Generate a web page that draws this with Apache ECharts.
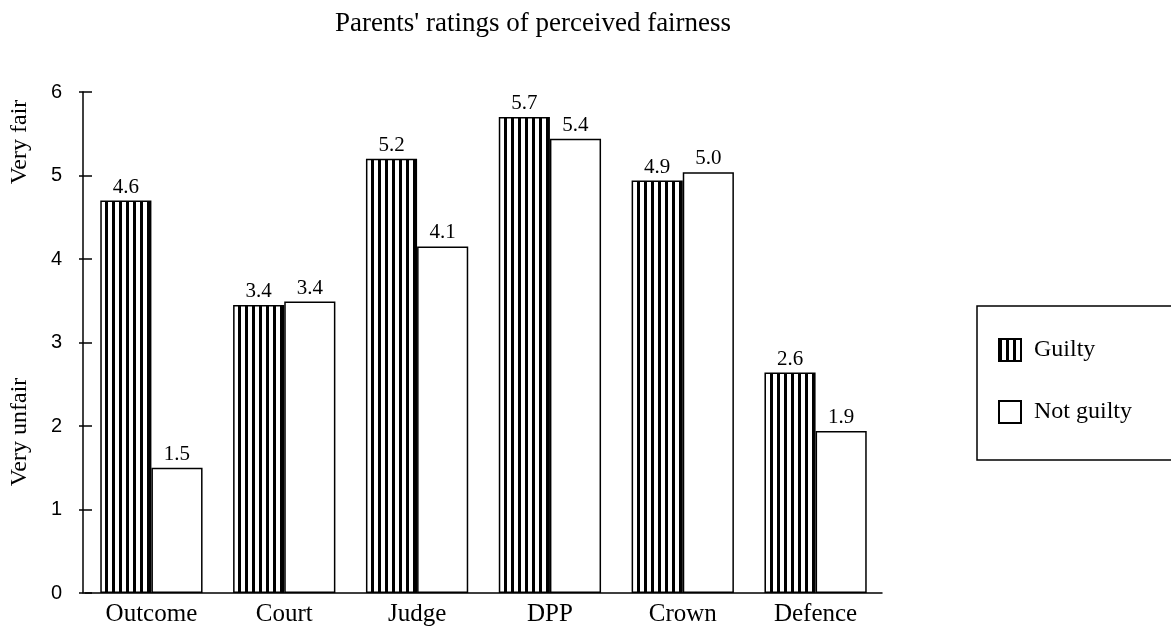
<!DOCTYPE html>
<html lang="en">
<head>
    <meta charset="UTF-8">
    <title>Parents' ratings of perceived fairness</title>
    <script src="https://cdn.jsdelivr.net/npm/echarts@6/dist/echarts.min.js"></script>
</head>
<body style="margin:0;background:#fff;">
    <div id="main" style="width:1171px;height:635px;"></div>
    <script>
        // data (bar heights) + the numbers printed above the bars
        var categories = ['Outcome', 'Court', 'Judge', 'DPP', 'Crown', 'Defence'];
        var guilty = [4.7, 3.45, 5.2, 5.7, 4.94, 2.64];
        var notGuilty = [1.5, 3.49, 4.15, 5.44, 5.04, 1.94];
        var guiltyLabels = ['4.6', '3.4', '5.2', '5.7', '4.9', '2.6'];
        var notGuiltyLabels = ['1.5', '3.4', '4.1', '5.4', '5.0', '1.9'];
        var yTicks = [0, 1, 2, 3, 4, 5, 6];

        var serif = '"Liberation Serif", serif';
        var sans = '"Liberation Sans", sans-serif';

        // vertical stripe fill for the "Guilty" bars
        var stripe = document.createElement('canvas');
        stripe.width = 7;
        stripe.height = 8;
        var ctx = stripe.getContext('2d');
        ctx.fillStyle = '#fff';
        ctx.fillRect(0, 0, 7, 8);
        ctx.fillStyle = '#000';
        ctx.fillRect(0, 0, 3, 8);

        var myChart = echarts.init(document.getElementById('main'));

        var option = {
            animation: false,
            backgroundColor: '#fff',
            title: {
                text: "Parents' ratings of perceived fairness",
                left: 528,
                top: 5,
                textAlign: 'center',
                textStyle: {fontFamily: serif, fontWeight: 'normal', fontSize: 27, color: '#000'}
            },
            legend: {
                orient: 'vertical',
                left: 977,
                top: 306,
                icon: 'rect',
                itemWidth: 22,
                itemHeight: 22,
                itemGap: 38,
                padding: [32, 60, 36, 21],
                borderColor: '#000',
                borderWidth: 1.5,
                textStyle: {fontFamily: serif, fontSize: 24, color: '#000', lineHeight: 24, padding: [0, 0, 0, 8]},
                data: ['Guilty', 'Not guilty']
            },
            grid: {left: 85, right: 289, top: 92, bottom: 42},
            xAxis: {
                type: 'category',
                data: categories,
                axisLine: {lineStyle: {color: '#000', width: 1.5}},
                axisTick: {show: false},
                axisLabel: {fontFamily: serif, fontSize: 25, color: '#000', margin: 9}
            },
            yAxis: [{
                type: 'value',
                min: yTicks[0],
                max: yTicks[yTicks.length - 1],
                interval: 1,
                offset: 2,
                splitLine: {show: false},
                axisLine: {show: true, lineStyle: {color: '#000', width: 1.5}},
                axisTick: {show: true, length: 4, lineStyle: {color: '#000', width: 1.5}},
                axisLabel: {fontFamily: sans, fontSize: 20, color: '#000', margin: 21}
            }, {
                type: 'value',
                position: 'left',
                min: yTicks[0],
                max: yTicks[yTicks.length - 1],
                interval: 1,
                offset: 2,
                splitLine: {show: false},
                axisLine: {show: false},
                axisTick: {show: true, inside: true, length: 9, lineStyle: {color: '#000', width: 1.5}},
                axisLabel: {show: false}
            }],
            graphic: [{
                type: 'text',
                x: 20,
                y: 142,
                rotation: Math.PI / 2,
                style: {text: 'Very fair', font: '24px ' + serif, fill: '#000', align: 'center', verticalAlign: 'middle'}
            }, {
                type: 'text',
                x: 20,
                y: 432,
                rotation: Math.PI / 2,
                style: {text: 'Very unfair', font: '24px ' + serif, fill: '#000', align: 'center', verticalAlign: 'middle'}
            }],
            series: [{
                name: 'Guilty',
                type: 'bar',
                data: guilty,
                barGap: '0%',
                barCategoryGap: '23%',
                itemStyle: {color: {image: stripe, repeat: 'repeat'}, borderColor: '#000', borderWidth: 1.5},
                label: {
                    show: true, position: 'top', distance: 3,
                    fontFamily: serif, fontSize: 21, color: '#000',
                    formatter: function (p) { return guiltyLabels[p.dataIndex]; }
                }
            }, {
                name: 'Not guilty',
                type: 'bar',
                data: notGuilty,
                itemStyle: {color: '#fff', borderColor: '#000', borderWidth: 1.5},
                label: {
                    show: true, position: 'top', distance: 3,
                    fontFamily: serif, fontSize: 21, color: '#000',
                    formatter: function (p) { return notGuiltyLabels[p.dataIndex]; }
                }
            }]
        };
        myChart.setOption(option);
    </script>
</body>
</html>
